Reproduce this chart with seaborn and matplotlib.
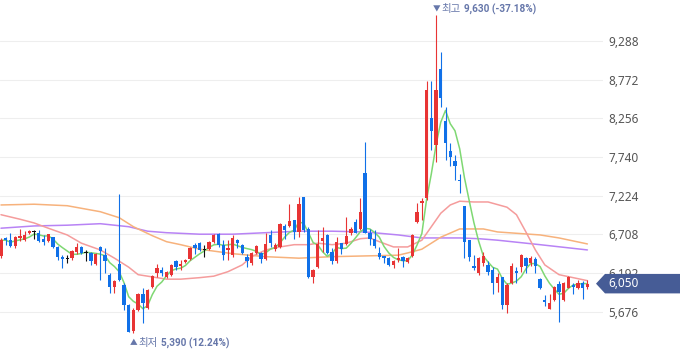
import numpy as np
import pandas as pd
import matplotlib
matplotlib.use('Agg')
import matplotlib.pyplot as plt
import matplotlib.transforms as mtransforms
from matplotlib.patches import Polygon
import seaborn as sns

# === Daily candles (KRW) ===
opens = [6420, 6660, 6630, 6550, 6660, 6630, 6730, 6750, 6730, 6650,
         6620, 6670, 6540, 6410, 6390, 6390, 6470, 6540, 6470, 6460,
         6310, 6540, 6430, 6170, 6010, 6310, 6030, 5770, 5420, 5700,
         5910, 5730, 6010, 6190, 6230, 6140, 6170, 6350, 6290, 6340,
         6380, 6570, 6590, 6500, 6510, 6610, 6710, 6570, 6500, 6430,
         6630, 6570, 6410, 6330, 6460, 6460, 6380, 6700, 6510, 6540,
         6820, 6820, 6900, 6740, 7210, 6780, 6140, 6270, 6620, 6700,
         6470, 6350, 6590, 6580, 6730, 6870, 6780, 7530, 6730, 6650,
         6460, 6420, 6390, 6300, 6370, 6410, 6340, 6420, 6870, 7130,
         7190, 8260, 7900, 8910, 8220, 7820, 7690, 7430, 7090, 6630,
         6290, 6190, 6330, 6300, 6230, 6060, 6140, 5770, 6060, 6220,
         6270, 6390, 6330, 6380, 6110, 5830, 5710, 5830, 6050, 5830,
         5990, 6030, 5990, 6060, 6010]
highs = [6660, 6670, 6730, 6690, 6780, 6750, 6770, 6770, 6770, 6700,
         6710, 6670, 6550, 6430, 6430, 6500, 6590, 6550, 6500, 6470,
         6460, 6550, 6530, 6190, 6100, 7250, 6060, 5780, 5730, 5930,
         5990, 5980, 6170, 6310, 6270, 6220, 6310, 6370, 6370, 6380,
         6540, 6590, 6610, 6570, 6620, 6710, 6730, 6630, 6630, 6700,
         6650, 6580, 6450, 6470, 6570, 6470, 6730, 6770, 6590, 6860,
         6850, 7110, 6900, 7210, 7210, 6810, 6250, 6770, 6810, 6710,
         6530, 6670, 6590, 6940, 6810, 6910, 7190, 7940, 6780, 6770,
         6540, 6420, 6410, 6370, 6530, 6420, 6410, 6710, 7130, 7190,
         8750, 8750, 9630, 9140, 8410, 7930, 7770, 7510, 7090, 6630,
         6430, 6410, 6470, 6350, 6270, 6190, 6140, 6060, 6330, 6270,
         6450, 6410, 6420, 6410, 6130, 5900, 5910, 6020, 6090, 6070,
         6150, 6060, 6100, 6090, 6100]
lows = [6390, 6570, 6540, 6530, 6620, 6620, 6710, 6650, 6610, 6570,
        6610, 6530, 6370, 6260, 6330, 6370, 6450, 6450, 6350, 6300,
        6300, 6100, 6190, 5930, 5930, 6090, 5700, 5400, 5390, 5690,
        5530, 5710, 5990, 6140, 6150, 6130, 6150, 6230, 6230, 6330,
        6370, 6450, 6490, 6410, 6500, 6590, 6540, 6370, 6370, 6410,
        6530, 6450, 6270, 6300, 6450, 6330, 6370, 6540, 6490, 6530,
        6650, 6810, 6650, 6670, 6740, 6130, 6060, 6260, 6470, 6450,
        6310, 6330, 6450, 6570, 6700, 6730, 6770, 6730, 6570, 6530,
        6380, 6330, 6290, 6260, 6340, 6270, 6330, 6410, 6860, 6900,
        7170, 7830, 7680, 8410, 7700, 7620, 7430, 7260, 6390, 6350,
        6230, 6170, 6290, 6170, 5910, 5940, 5710, 5660, 6050, 6060,
        6210, 6190, 6290, 6190, 5980, 5750, 5710, 5820, 5540, 5820,
        5990, 5910, 5980, 5850, 5980]
closes = [6630, 6630, 6550, 6670, 6690, 6700, 6750, 6750, 6620, 6610,
          6710, 6540, 6410, 6380, 6390, 6490, 6540, 6460, 6470, 6350,
          6450, 6490, 6350, 6010, 6090, 6100, 5770, 5410, 5700, 5910,
          5790, 5970, 6150, 6260, 6190, 6210, 6300, 6270, 6310, 6370,
          6530, 6530, 6500, 6500, 6610, 6700, 6570, 6430, 6530, 6660,
          6590, 6460, 6350, 6460, 6550, 6380, 6580, 6590, 6570, 6850,
          6770, 6890, 6740, 7110, 6770, 6140, 6230, 6580, 6660, 6460,
          6350, 6610, 6510, 6690, 6780, 6730, 7010, 6730, 6650, 6550,
          6410, 6390, 6300, 6350, 6390, 6350, 6390, 6700, 7010, 7150,
          8630, 8090, 8630, 8530, 7930, 7740, 7620, 7420, 6610, 6410,
          6260, 6390, 6420, 6210, 6060, 6140, 5770, 6030, 6290, 6190,
          6430, 6290, 6390, 6290, 5990, 5810, 5790, 6010, 5940, 6060,
          6140, 6010, 6060, 5990, 6050]

# longer moving averages (history starts before the window)
ma20_idx = [0, 4, 7, 10, 14, 17, 21, 24, 27, 29, 32, 35, 38, 42, 45, 48, 51, 53, 56, 59,
            62, 65, 67, 70, 73, 76, 78, 80, 83, 86, 89, 91, 93, 95, 97, 100, 103, 107,
            109, 111, 113, 115, 118, 121, 124]
ma20_val = [6970, 6910, 6860, 6790, 6700, 6590, 6500, 6390, 6270, 6170, 6140, 6110, 6110,
            6130, 6150, 6210, 6300, 6410, 6500, 6540, 6570, 6570, 6590, 6570, 6590, 6650,
            6660, 6610, 6540, 6540, 6630, 6810, 6990, 7100, 7150, 7140, 7140, 7070, 6970,
            6740, 6500, 6300, 6170, 6130, 6090]
ma60_idx = [0, 7, 14, 21, 25, 28, 32, 35, 38, 42, 49, 56, 63, 70, 77, 84, 86, 89, 93, 97,
            102, 105, 114, 118, 124]
ma60_val = [7100, 7110, 7090, 7010, 6930, 6810, 6690, 6610, 6570, 6510, 6450, 6410, 6390,
            6410, 6420, 6430, 6460, 6510, 6670, 6780, 6780, 6740, 6700, 6660, 6580]
ma120_idx = [0, 7, 14, 21, 27, 31, 35, 42, 49, 56, 63, 70, 77, 84, 89, 97, 101, 105, 114, 124]
ma120_val = [6790, 6820, 6830, 6850, 6810, 6750, 6730, 6710, 6710, 6730, 6750, 6750, 6740,
             6700, 6660, 6660, 6650, 6630, 6570, 6500]

y_ticks = [5676, 6192, 6708, 7224, 7740, 8256, 8772, 9288]

RED, BLUE, BLACK = '#e83434', '#1070e8', '#111111'
ANN = '#6677aa'

sns.set_theme(style='white')
plt.rcParams['font.family'] = ['Noto Sans CJK KR', 'DejaVu Sans']

o = np.array(opens, float)
h = np.array(highs, float)
l = np.array(lows, float)
c = np.array(closes, float)
n = len(c)
idx = np.arange(n)

fig = plt.figure(figsize=(6.8, 3.58), dpi=100)
ax = fig.add_axes([0, 0, 603 / 680, 1])
ax.set_facecolor('white')

# moving averages
ma5 = pd.Series(c).rolling(5, min_periods=1).mean()
sns.lineplot(x=ma120_idx, y=ma120_val, color='#b883f5', linewidth=1.1, ax=ax, zorder=2, estimator=None)
sns.lineplot(x=ma60_idx, y=ma60_val, color='#f7b27c', linewidth=1.1, ax=ax, zorder=2, estimator=None)
sns.lineplot(x=ma20_idx, y=ma20_val, color='#f59c9c', linewidth=1.1, ax=ax, zorder=2, estimator=None)
sns.lineplot(x=idx, y=ma5.values, color='#7fd873', linewidth=1.1, ax=ax, zorder=2, estimator=None)

# candles
cols = np.where(c > o, RED, np.where(c < o, BLUE, BLACK))
ax.vlines(idx, l, h, colors=cols, linewidth=0.8, zorder=3)
min_body = 12
body_bottom = np.where(c == o, o - min_body / 2, np.minimum(o, c))
body_h = np.maximum(np.abs(c - o), min_body)
ax.bar(idx, body_h, bottom=body_bottom, width=0.7, color=cols, linewidth=0, zorder=4)

ax.set_xlim(-0.21, 127.3)
ax.set_ylim(5058, 9835)
ax.set_xticks([])
ax.set_yticks(y_ticks)
ax.set_yticklabels([f'{v:,}' for v in y_ticks], family='Noto Sans', fontsize=8.5, color='#555555')
ax.yaxis.tick_right()
ax.tick_params(axis='y', length=0, pad=4)
ax.grid(axis='y', color='#eeeeee', linewidth=0.8)
ax.set_xlabel('')
ax.set_ylabel('')
for s in ax.spines.values():
    s.set_visible(False)

# high / low markers
last = c[-1]
hi_i = int(np.argmax(h))
lo_i = int(np.argmin(l))
hi_v, lo_v = h[hi_i], l[lo_i]
marks = [('▼', '최고', hi_i, hi_v, 6), ('▲', '최저', lo_i, lo_v, -10)]
for sym, word, i, v, dy in marks:
    ax.annotate(sym, xy=(i, v), xytext=(0.5, dy), textcoords='offset pixels',
                ha='center', va='center', fontsize=5.5, color=ANN)
    ax.annotate(word, xy=(i, v), xytext=(5, dy), textcoords='offset pixels',
                ha='left', va='center', fontsize=7.5, color=ANN)
    ax.annotate(f'{v:,.0f} ({(last / v - 1) * 100:.2f}%)', xy=(i, v), xytext=(28, dy),
                textcoords='offset pixels', ha='left', va='center', fontsize=7.2,
                family='Roboto', fontweight='bold', color=ANN)

# current price tag
tr = mtransforms.blended_transform_factory(fig.transFigure, ax.transData)
half = 130
tag = Polygon([(596 / 680, last), (605 / 680, last + half), (1.0, last + half),
               (1.0, last - half), (605 / 680, last - half)],
              closed=True, transform=tr, facecolor='#465c96', edgecolor='none', zorder=10)
fig.add_artist(tag)
fig.text(608 / 680, last, f'{last:,.0f}', transform=tr, ha='left', va='center',
         family='Noto Sans', fontsize=8.5, color='white', zorder=11)

fig.savefig('out.png', dpi=100, facecolor='white')
